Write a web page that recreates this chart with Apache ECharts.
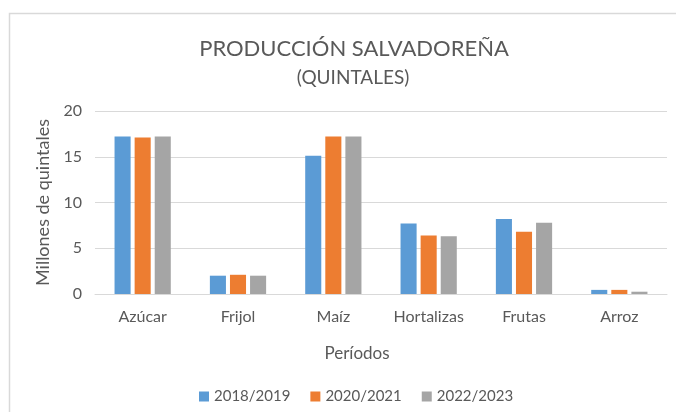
<!DOCTYPE html>
<html>
<head>
<meta charset="utf-8">
<script src="https://cdn.jsdelivr.net/npm/echarts@6/dist/echarts.min.js"></script>
<style>
  html, body { margin: 0; padding: 0; background: #fff; }
  #chart { width: 676px; height: 412px; }
</style>
</head>
<body>
<div id="chart"></div>
<script>
// Categories and series values (millones de quintales)
const categories = ['Azúcar', 'Frijol', 'Maíz', 'Hortalizas', 'Frutas', 'Arroz'];
const periods = ['2018/2019', '2020/2021', '2022/2023'];
const values1819 = [17.2, 2.0, 15.1, 7.7, 8.2, 0.45];
const values2021 = [17.1, 2.1, 17.2, 6.4, 6.8, 0.45];
const values2223 = [17.2, 2.0, 17.2, 6.3, 7.8, 0.25];
const colors = ['#5b9bd5', '#ed7d31', '#a5a5a5'];

const fontFamily = 'Lato, "Open Sans", sans-serif';
const textColor = '#595959';

const chart = echarts.init(document.getElementById('chart'));

const seriesData = [values1819, values2021, values2223];

chart.setOption({
    animation: false,
    textStyle: { fontFamily: fontFamily },
    graphic: [{
        type: 'rect',
        shape: { x: 9.5, y: 13.5, width: 700, height: 420 },
        style: { fill: 'none', stroke: '#d9d9d9', lineWidth: 1.5 },
        silent: true
    }],
    title: [{
        text: 'PRODUCCIÓN SALVADOREÑA',
        left: 349,
        top: 33,
        textAlign: 'center',
        textStyle: { fontSize: 22, fontWeight: 'normal', color: textColor, fontFamily: fontFamily }
    }, {
        text: '(QUINTALES)',
        left: 348,
        top: 63,
        textAlign: 'center',
        textStyle: { fontSize: 19, fontWeight: 'normal', color: textColor, fontFamily: fontFamily }
    }],
    legend: {
        data: periods,
        left: 194,
        top: 384,
        itemWidth: 10,
        itemHeight: 10,
        itemGap: 20,
        icon: 'rect',
        textStyle: { fontSize: 15, color: textColor, fontFamily: fontFamily }
    },
    grid: {
        left: 95,
        right: 9,
        top: 111,
        bottom: 118
    },
    xAxis: {
        type: 'category',
        data: categories,
        name: 'Períodos',
        nameLocation: 'middle',
        nameGap: 51,
        nameTextStyle: { fontSize: 17, color: textColor, padding: [0, 48, 0, 0] },
        axisLine: { lineStyle: { color: '#d9d9d9' } },
        axisTick: { show: false },
        axisLabel: { fontSize: 16, color: textColor, margin: 15 }
    },
    yAxis: {
        type: 'value',
        min: 0,
        max: 20,
        interval: 5,
        name: 'Millones de quintales',
        nameLocation: 'middle',
        nameGap: 41,
        nameTextStyle: { fontSize: 18, color: textColor },
        axisLine: { show: false },
        axisTick: { show: false },
        axisLabel: { fontSize: 16, color: textColor, margin: 13 },
        splitLine: { lineStyle: { color: '#d9d9d9' } }
    },
    series: periods.map((name, i) => ({
        name: name,
        type: 'bar',
        data: seriesData[i],
        itemStyle: { color: colors[i] },
        barGap: '25%',
        barCategoryGap: '41%'
    }))
});
</script>
</body>
</html>
